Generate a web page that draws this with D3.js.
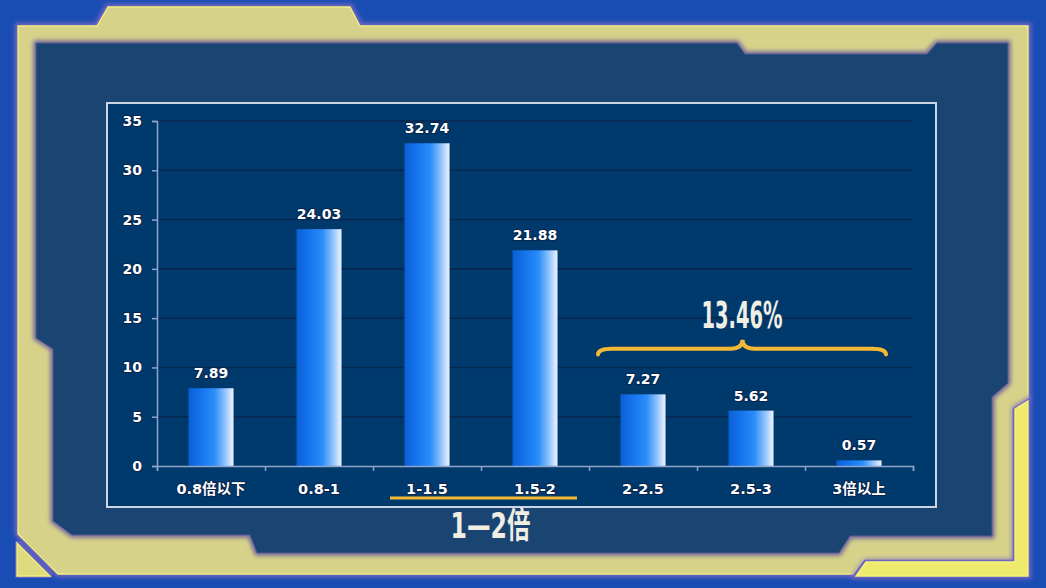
<!DOCTYPE html>
<html><head><meta charset="utf-8">
<script src="https://cdn.jsdelivr.net/npm/d3@7"></script>
<style>html,body{margin:0;padding:0;background:#1a4db3;overflow:hidden}</style>
</head><body>
<svg id="c" width="1046" height="588"></svg>
<script>
const categories = ["0.8倍以下","0.8-1","1-1.5","1.5-2","2-2.5","2.5-3","3倍以上"];
const values = [7.89,24.03,32.74,21.88,7.27,5.62,0.57];
const yTicks = [0,5,10,15,20,25,30,35];
const braceLabel = "13.46%";
const underLabel = "1—2倍";

const svg = d3.select("#c");
const defs = svg.append("defs");
const glow = defs.append("filter").attr("id","glow").attr("x","-5%").attr("y","-5%").attr("width","110%").attr("height","110%");
glow.append("feGaussianBlur").attr("stdDeviation",2.2);
const grad = defs.append("linearGradient").attr("id","bar").attr("x1","0").attr("x2","1").attr("y1","0").attr("y2","0");
[["0%","#0b5fd6"],["30%","#1676ee"],["58%","#2a8ef8"],["80%","#8cc0ff"],["100%","#eef4ff"]]
  .forEach(s=>grad.append("stop").attr("offset",s[0]).attr("stop-color",s[1]));

svg.append("rect").attr("width",1046).attr("height",588).attr("fill","#1a4db3");

const line = d3.line();
const khaki = [[18,26],[97,26],[108,7],[350,7],[360,26],[1028,26],[1028,398],[1012,408],[1012,559],[864,559],[853,574],[58,574],[18,534]];
const bright = [[1015,409],[1028,401],[1028,576],[856,576],[866,562],[1015,562]];
const tri = [[17,543],[17,576],[50,576]];
const inner = [[36,43],[737,43],[745,54],[927,54],[937,43],[1008,43],[1008,383],[992,397],[992,536],[850,536],[839,553],[257,553],[250,535],[72,535],[53,521],[53,349],[36,338]];

function poly(pts, fill, edge, glowCol){
  svg.append("path").attr("d",line(pts)+"Z").attr("fill","none").attr("stroke",glowCol).attr("stroke-width",6).attr("filter","url(#glow)");
  svg.append("path").attr("d",line(pts)+"Z").attr("fill",fill).attr("stroke",edge).attr("stroke-width",1.3);
}
poly(khaki,"#d6d28a","#f2ef80","#7768c4");
poly(bright,"#eeea6e","#f8f47a","#7768c4");
poly(tri,"#dedb7e","#f2ef80","#7768c4");
svg.append("path").attr("d",line(inner)+"Z").attr("fill","none").attr("stroke","#6d5e9e").attr("stroke-width",5).attr("filter","url(#glow)");
svg.append("path").attr("d",line(inner)+"Z").attr("fill","#1a4573").attr("stroke","#5a5a95").attr("stroke-width",1);

// chart box
svg.append("rect").attr("x",107).attr("y",103).attr("width",829).attr("height",404)
  .attr("fill","#003a6d").attr("stroke","#cdd5e3").attr("stroke-width",2);

const x = d3.scaleBand().domain(categories).range([157,913]).paddingInner(0.583).paddingOuter(0.2915);
const xi = d3.scaleLinear().domain([0,categories.length]).range([157,913]);
const y = d3.scaleLinear().domain([0,35]).range([466,121]);

// grid
svg.append("g").selectAll("line").data(yTicks.filter(d=>d>0)).join("line")
  .attr("x1",157).attr("x2",913).attr("y1",d=>y(d)).attr("y2",d=>y(d))
  .attr("stroke","#06284f").attr("stroke-width",1.6);

// bars
svg.append("g").selectAll("rect").data(values).join("rect")
  .attr("x",(d,i)=>x(categories[i])).attr("width",x.bandwidth())
  .attr("y",d=>y(d)).attr("height",d=>y(0)-y(d)).attr("fill","url(#bar)");

const txt = (sel)=>sel.attr("fill","#ffffff").attr("font-family","'DejaVu Sans','Noto Sans CJK SC',sans-serif")
  .attr("font-weight","bold").attr("stroke","#062650").attr("stroke-width",2.2).attr("paint-order","stroke").attr("stroke-linejoin","round");

// value labels
svg.append("g").selectAll("text").data(values).join("text")
  .attr("x",(d,i)=>x(categories[i])+x.bandwidth()/2).attr("y",d=>y(d)-10)
  .attr("text-anchor","middle").attr("font-size",14).text(d=>d.toFixed(2)).call(txt);

// y axis
const ya = svg.append("g").attr("transform","translate(157,0)")
  .call(d3.axisLeft(y).tickValues(yTicks).tickSize(5).tickPadding(10));
ya.select(".domain").attr("stroke","#8ea4c8").attr("stroke-width",1.5);
ya.selectAll(".tick line").attr("stroke","#8ea4c8").attr("stroke-width",1.5);
ya.selectAll(".tick text").attr("font-size",14).call(txt);

// x axis
const xa = svg.append("g").attr("transform","translate(0,466)")
  .call(d3.axisBottom(xi).tickValues(d3.range(categories.length+1)).tickSize(5).tickFormat(""));
xa.select(".domain").attr("stroke","#8ea4c8").attr("stroke-width",1.5);
xa.selectAll(".tick line").attr("stroke","#8ea4c8").attr("stroke-width",1.5);
svg.append("g").selectAll("text").data(categories).join("text")
  .attr("x",d=>x(d)+x.bandwidth()/2).attr("y",494).attr("text-anchor","middle")
  .attr("font-size",14.5).text(d=>d).call(txt);

// brace annotation
const bL = xi(4)+9, bR = xi(7)-27, bM = (bL+bR)/2+0.5;
const yh = y(11.9), ye = y(11.3), yp = y(12.8);
const brace = `M${bL},${ye} Q${bL},${yh} ${bL+14},${yh} L${bM-12},${yh} Q${bM},${yh} ${bM},${yp} Q${bM},${yh} ${bM+12},${yh} L${bR-14},${yh} Q${bR},${yh} ${bR},${ye}`;
svg.append("path").attr("d",brace).attr("fill","none").attr("stroke","#f3b935").attr("stroke-width",4).attr("stroke-linecap","round");
svg.append("text").attr("x",bM-0.5).attr("y",y(14)).attr("text-anchor","middle")
  .attr("font-family","'DejaVu Sans',sans-serif").attr("font-weight","bold").attr("font-size",38)
  .attr("textLength",81).attr("lengthAdjust","spacingAndGlyphs").attr("fill","#f1eee4").text(braceLabel);

// underline annotation
const uL = xi(2)+17, uR = xi(4)-12;
svg.append("line").attr("x1",uL).attr("x2",uR).attr("y1",y(0)+32).attr("y2",y(0)+32)
  .attr("stroke","#f3b935").attr("stroke-width",3);
svg.append("text").attr("x",(uL+uR)/2+7).attr("y",y(0)+72).attr("text-anchor","middle")
  .attr("font-family","'DejaVu Sans','Noto Sans CJK SC',sans-serif").attr("font-weight","bold").attr("font-size",35)
  .attr("textLength",80).attr("lengthAdjust","spacingAndGlyphs").attr("fill","#f1eee4").text(underLabel);
</script>
</body></html>
